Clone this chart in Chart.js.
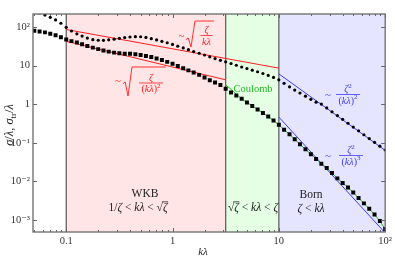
<!DOCTYPE html>
<html><head><meta charset="utf-8">
<script src="https://cdn.jsdelivr.net/npm/chart.js@4/dist/chart.umd.min.js"></script>
<style>html,body{margin:0;padding:0;background:#fff}#wrap{width:395px;height:258px}</style>
</head><body><div id="wrap"><canvas id="c" width="395" height="258"></canvas></div>
<script>
// ---- data ----
const kValues = [0.0501,0.0562,0.0631,0.0708,0.0794,0.0891,
 0.1,0.112,0.126,0.141,0.158,0.178,0.2,0.224,0.251,0.282,0.316,0.355,0.398,0.447,0.501,0.562,0.631,0.708,0.794,0.891,
 1,1.12,1.26,1.41,1.58,1.78,2,2.24,2.51,2.82,3.16,3.55,3.98,4.47,5.01,5.62,6.31,7.08,7.94,8.91,
 10,11.2,12.6,14.1,15.8,17.8,20,22.4,25.1,28.2,31.6,35.5,39.8,44.7,50.1,56.2,63.1,70.8,79.4,89.1,100];
const sigmaValues = [80.2,76.5,72.5,66.7,61.0,54.2,47.5,43.0,39.8,35.7,32.1,29.2,26.7,24.6,23.0,21.7,20.9,20.4,20.2,19.8,
 18.7,17.7,16.6,15.3,13.9,12.5,11.1,9.71,8.57,7.52,6.59,5.75,4.90,4.20,3.64,3.15,2.53,2.01,1.69,1.38,1.11,0.904,0.734,
 0.592,0.478,0.377,0.294,0.219,0.166,0.123,0.0915,0.0679,0.0507,0.0381,0.0288,0.0222,0.0165,0.0120,0.00915,0.00700,
 0.00514,0.00370,0.00270,0.00195,0.00139,0.000942,0.000585];
const sigmaTrValues = [259,230,204,178,152,125,98.2,78.8,66.7,58.2,51.7,47.0,45.3,45.1,46.4,48.4,50.8,53.2,55.1,56.2,
 55.8,53.6,49.9,46.1,42.5,39.1,35.3,31.9,28.7,25.8,23.1,20.9,18.8,16.9,15.2,13.7,12.5,11.3,10.2,9.20,8.37,7.61,6.92,
 6.25,5.58,4.93,4.27,3.47,2.82,2.33,1.95,1.61,1.34,1.13,1.006,0.802,0.636,0.507,0.405,0.321,0.256,0.204,0.162,0.129,
 0.103,0.0817,0.0652];
const greenK = kValues.slice(36);
const greenValues = [3.17,2.42,1.81,1.38,1.11,0.904,0.734,0.592,0.478,0.377,0.294,0.219,0.166,0.123,0.0915,0.0679,
 0.0507,0.0381,0.0288,0.0222,0.0165,0.0120,0.00915,0.00700,0.00514,0.00370,0.00270,0.00195,0.00139,0.000942,0.000585];
const redUpperK = [0.1, 10],  redUpperValues = [86, 8.6];
const redLowerK = [0.1, 3.162], redLowerValues = [42.5, 4.27];
const blueUpperK = [10, 100], blueUpperValues = [6.1, 0.0637];
const blueLowerK = [10, 100], blueLowerValues = [0.464, 0.000464];
const regionEdges = [0.1, 3.162, 10, 100];
const xTickValues = [0.1, 1, 10, 100];
const xTickLabels = ['0.1', '1', '10', '10²'];
const yTickValues = [100, 10, 1, 0.1, 0.01, 0.001];
const yTickLabels = ['10²', '10', '1', '10⁻¹', '10⁻²', '10⁻³'];

// ---- helpers ----
const SERIF = "'Liberation Serif','DejaVu Serif',serif";
const INK = '#222', RED = 'rgb(255,30,30)', BLUE = 'rgb(60,60,240)', GREEN = 'rgb(40,185,40)';
function fontFor(st, fs){
  const it = st.includes('i') ? 'italic ' : '';
  const small = st.includes('s') || st.includes('u');
  return it + (small ? fs*0.7 : fs) + 'px ' + SERIF;
}
function drawRich(ctx, segs, x, y, fs, color, align){
  align = align || 'center';
  ctx.save(); ctx.fillStyle = color; ctx.strokeStyle = color;
  ctx.textAlign = 'left'; ctx.textBaseline = 'alphabetic';
  let w = 0;
  const ws = segs.map(([t, st]) => { ctx.font = fontFor(st, fs); const m = ctx.measureText(t).width; w += m; return m; });
  let cx = align === 'center' ? x - w/2 : (align === 'right' ? x - w : x);
  segs.forEach(([t, st], i) => {
    ctx.font = fontFor(st, fs);
    const dy = st.includes('s') ? fs*0.25 : (st.includes('u') ? -fs*0.42 : 0);
    ctx.fillText(t, cx, y + dy);
    if (st.includes('o')) {
      ctx.lineWidth = 0.8; ctx.beginPath();
      ctx.moveTo(cx - 1, y - fs*0.8); ctx.lineTo(cx + ws[i] + 0.5, y - fs*0.8); ctx.stroke();
    }
    cx += ws[i];
  });
  ctx.restore();
  return w;
}
function radical(ctx, x0, yMid, yBot, yTop, x1, color){
  ctx.save(); ctx.strokeStyle = color; ctx.lineWidth = 0.9; ctx.beginPath();
  ctx.moveTo(x0, yMid + 1.5); ctx.lineTo(x0 + 2.2, yMid); ctx.lineTo(x0 + 5, yBot);
  ctx.lineTo(x0 + 9, yTop); ctx.lineTo(x1, yTop); ctx.stroke(); ctx.restore();
}
function fraction(ctx, cx, yBar, num, den, w, color, fs){
  ctx.save(); ctx.strokeStyle = color; ctx.lineWidth = 0.8; ctx.beginPath();
  ctx.moveTo(cx - w/2, yBar); ctx.lineTo(cx + w/2, yBar); ctx.stroke(); ctx.restore();
  drawRich(ctx, num, cx, yBar - 2.5, fs, color);
  drawRich(ctx, den, cx, yBar + fs*0.8 + 1, fs, color);
}

const decoPlugin = {
  id: 'deco',
  beforeDatasetsDraw(chart){
    const {ctx, chartArea: a, scales: {x}} = chart;
    const fills = ['rgb(255,229,229)', 'rgb(229,255,229)', 'rgb(229,229,255)'];
    ctx.save();
    for (let i = 0; i < 3; i++) {
      const x0 = x.getPixelForValue(regionEdges[i]), x1 = x.getPixelForValue(regionEdges[i+1]);
      ctx.fillStyle = fills[i]; ctx.fillRect(x0, a.top, x1 - x0, a.bottom - a.top);
    }
    ctx.strokeStyle = '#555'; ctx.lineWidth = 1.2;
    for (let i = 0; i < 3; i++) {
      const px = x.getPixelForValue(regionEdges[i]);
      ctx.beginPath(); ctx.moveTo(px, a.top); ctx.lineTo(px, a.bottom); ctx.stroke();
    }
    ctx.restore();
  },
  afterDatasetsDraw(chart){
    const ctx = chart.ctx;
    // upper red formula  ~ sqrt(zeta / k lambda)
    drawRich(ctx, [['~','n']], 181.5, 39, 11, RED);
    radical(ctx, 186, 38, 47, 21, 214, RED);
    fraction(ctx, 206.5, 35.5, [['ζ','i']], [['kλ','i']], 12, RED, 10);
    // lower red formula
    drawRich(ctx, [['~','n']], 118, 84, 11, RED);
    radical(ctx, 123, 82, 96, 67, 166, RED);
    fraction(ctx, 151, 83, [['ζ','i']], [['(','n'],['kλ','i'],[')','n'],['2','u']], 24, RED, 10);
    // blue formulas
    drawRich(ctx, [['~','n']], 328, 98, 11, BLUE);
    fraction(ctx, 348, 94.5, [['ζ','i'],['2','u']], [['(','n'],['kλ','i'],[')','n'],['2','u']], 24, BLUE, 10);
    drawRich(ctx, [['~','n']], 328, 159, 11, BLUE);
    fraction(ctx, 351, 155.5, [['ζ','i'],['2','u']], [['(','n'],['kλ','i'],[')','n'],['3','u']], 24, BLUE, 10);
    // region labels
    drawRich(ctx, [['Coulomb','n']], 253, 91.5, 10.5, GREEN);
    drawRich(ctx, [['WKB','n']], 145, 197, 11.5, INK);
    drawRich(ctx, [['1/','n'],['ζ','i'],[' < ','n'],['kλ','i'],[' < ','n'],['√','n'],['ζ','io']], 138, 211, 11.5, INK);
    drawRich(ctx, [['√','n'],['ζ','io'],[' < ','n'],['kλ','i'],[' < ','n'],['ζ','i']], 253, 211, 11.5, INK);
    drawRich(ctx, [['Born','n']], 311, 198, 11.5, INK);
    drawRich(ctx, [['ζ','i'],[' < ','n'],['kλ','i']], 311, 212, 11.5, INK);
  },
  afterDraw(chart){
    const {ctx, chartArea: a, scales: {x, y}} = chart;
    ctx.save();
    ctx.strokeStyle = '#666'; ctx.lineWidth = 1;
    for (let d = -2; d <= 2; d++) {
      for (let m = 1; m <= 9; m++) {
        const v = m * Math.pow(10, d);
        if (v < x.min || v > x.max) continue;
        const px = Math.round(x.getPixelForValue(v)) + 0.5;
        const len = m === 1 ? 4 : 2;
        ctx.beginPath();
        ctx.moveTo(px, a.bottom); ctx.lineTo(px, a.bottom - len);
        ctx.moveTo(px, a.top); ctx.lineTo(px, a.top + len);
        ctx.stroke();
      }
    }
    yTickValues.forEach(v => {
      const py = Math.round(y.getPixelForValue(v)) + 0.5;
      ctx.beginPath();
      ctx.moveTo(a.left, py); ctx.lineTo(a.left + 4, py);
      ctx.moveTo(a.right, py); ctx.lineTo(a.right - 4, py);
      ctx.stroke();
    });
    ctx.strokeStyle = '#6a6a6a'; ctx.lineWidth = 1.3;
    ctx.strokeRect(a.left, a.top, a.right - a.left, a.bottom - a.top);
    ctx.restore();
    // axis titles
    drawRich(ctx, [['kλ','i']], 203, 255, 11, INK);
    ctx.save(); ctx.translate(8.5, 125); ctx.rotate(-Math.PI/2);
    drawRich(ctx, [['σ','i'],['/','n'],['λ','i'],[', ','n'],['σ','i'],['tr','s'],['/','n'],['λ','i']], 0, 4, 12.5, INK);
    ctx.restore();
  }
};

const pts = (ks, vs) => ks.map((k, i) => ({x: k, y: vs[i]}));
const lineDs = (ks, vs, color) => ({data: pts(ks, vs), borderColor: color, borderWidth: 1, pointRadius: 0, fill: false, tension: 0, clip: 0});
const tickFont = {family: SERIF, size: 10.5};

new Chart(document.getElementById('c'), {
  type: 'line',
  data: { datasets: [
    {data: pts(kValues, sigmaValues), showLine: false, pointStyle: 'rect', pointRadius: 2.8, pointBackgroundColor: '#000', pointBorderWidth: 0, clip: 0},
    {data: pts(kValues, sigmaTrValues), showLine: false, pointStyle: 'circle', pointRadius: 1.6, pointBackgroundColor: '#000', pointBorderWidth: 0, clip: 0},
    lineDs(greenK, greenValues, GREEN),
    lineDs(blueLowerK, blueLowerValues, BLUE),
    lineDs(blueUpperK, blueUpperValues, BLUE),
    lineDs(redLowerK, redLowerValues, RED),
    lineDs(redUpperK, redUpperValues, RED)
  ]},
  options: {
    responsive: false, animation: false, devicePixelRatio: 1, events: [],
    layout: {padding: {left: 0, right: 8, top: 14, bottom: 0}},
    plugins: {legend: {display: false}, tooltip: {enabled: false}},
    scales: {
      x: {
        type: 'logarithmic', min: 0.0487, max: 100,
        grid: {display: false, drawTicks: false}, border: {display: false},
        afterBuildTicks: s => { s.ticks = xTickValues.map(v => ({value: v})); },
        afterFit: s => { s.height = 26; },
        ticks: {autoSkip: false, maxRotation: 0, padding: 3, color: '#333', font: tickFont,
                callback: (v, i) => xTickLabels[i]}
      },
      y: {
        type: 'logarithmic', min: 0.00049, max: 217,
        grid: {display: false, drawTicks: false}, border: {display: false},
        afterBuildTicks: s => { s.ticks = yTickValues.map(v => ({value: v})); },
        afterFit: s => { s.width = 33; },
        ticks: {autoSkip: false, padding: 3, color: '#333', font: tickFont,
                callback: (v, i) => yTickLabels[i]}
      }
    }
  },
  plugins: [decoPlugin]
});
</script></body></html>
